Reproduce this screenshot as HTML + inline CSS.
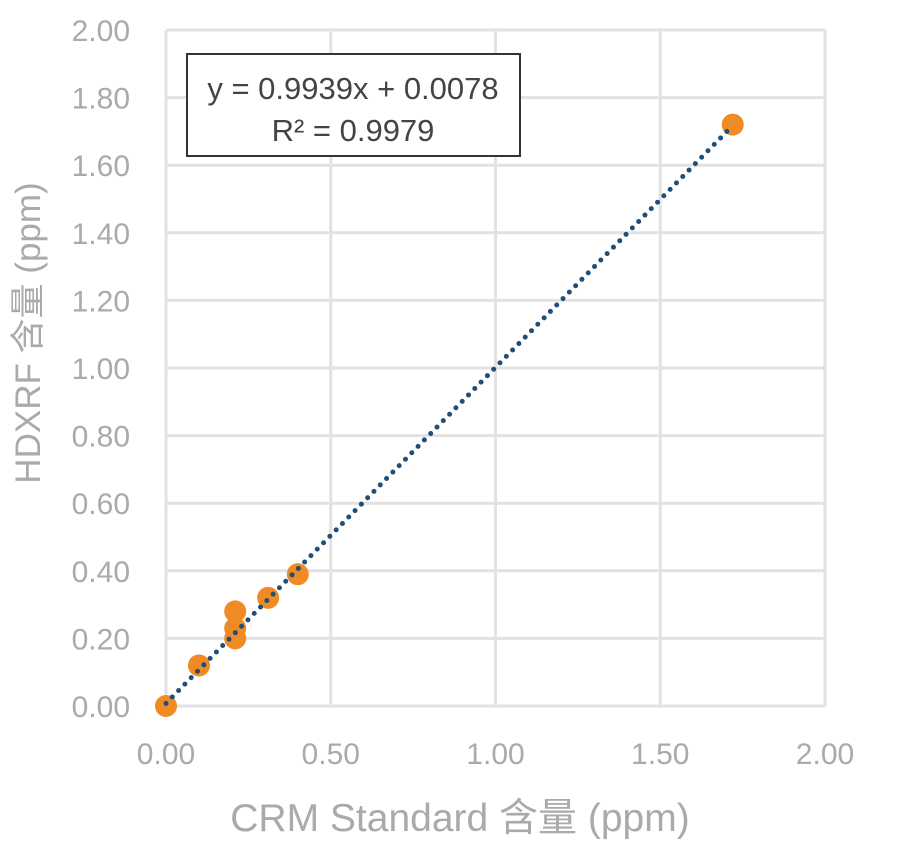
<!DOCTYPE html>
<html><head><meta charset="utf-8"><style>
body{margin:0;background:#fff;width:900px;height:861px;overflow:hidden}
text{font-family:"Liberation Sans","Noto Sans CJK SC",sans-serif}
</style></head><body>
<svg id="chart" width="900" height="861" xmlns="http://www.w3.org/2000/svg"></svg>
<script>
const xTicks=[0,0.5,1,1.5,2];
const yTicks=[0,0.2,0.4,0.6,0.8,1.0,1.2,1.4,1.6,1.8,2.0];
const xVals=[0,0.10,0.21,0.21,0.21,0.31,0.40,1.72];
const yVals=[0,0.12,0.28,0.23,0.20,0.32,0.39,1.72];
const slope=0.9939, intercept=0.0078;
const NS="http://www.w3.org/2000/svg";
const svg=document.getElementById('chart');
const X=v=>166+v*329.5, Y=v=>706-v*338;
function mk(t,a,p){const e=document.createElementNS(NS,t);for(const k in a)e.setAttribute(k,a[k]);(p||svg).appendChild(e);return e;}
xTicks.forEach(t=>{
 const l=mk('line',{x1:X(t),x2:X(t),y1:Y(2),y2:Y(0),stroke:'#e2e2e2','stroke-width':3});
 
 
 const tx=mk('text',{x:X(t),y:764,'text-anchor':'middle','font-size':30,fill:'#aaa'});
 tx.textContent=t.toFixed(2);
 
 
});
yTicks.forEach(t=>{
 const l=mk('line',{x1:X(0),x2:X(2),y1:Y(t),y2:Y(t),stroke:'#e2e2e2','stroke-width':3});
 
 
 const tx=mk('text',{x:130,y:Y(t)+11,'text-anchor':'end','font-size':30,fill:'#aaa'});
 tx.textContent=t.toFixed(2);
 
 
});
xVals.forEach((v,i)=>{
 const c=mk('circle',{cx:X(v),cy:Y(yVals[i]),r:11,fill:'#f08a24'});
 
 
});
const tl=mk('line',{x1:X(0),y1:Y(intercept),x2:X(1.72),y2:Y(slope*1.72+intercept),stroke:'#1f4e79','stroke-width':5,'stroke-dasharray':'0 9','stroke-linecap':'round'});


const box=mk('rect',{x:187,y:54,width:333,height:102,fill:'#fff',stroke:'#333','stroke-width':2});


const e1=mk('text',{x:353,y:99,'text-anchor':'middle','font-size':31,fill:'#444'});
e1.textContent='y = 0.9939x + 0.0078';


const e2=mk('text',{x:353,y:141,'text-anchor':'middle','font-size':31,fill:'#444'});
e2.textContent='R² = 0.9979';


const xt=mk('text',{x:460,y:831,'text-anchor':'middle','font-size':39,fill:'#aaa'});
xt.textContent='CRM Standard 含量 (ppm)';


const yt=mk('text',{x:0,y:0,'text-anchor':'middle','font-size':35,fill:'#aaa',transform:'translate(40,333) rotate(-90)'});
yt.textContent='HDXRF 含量 (ppm)';


</script>
</body></html>
